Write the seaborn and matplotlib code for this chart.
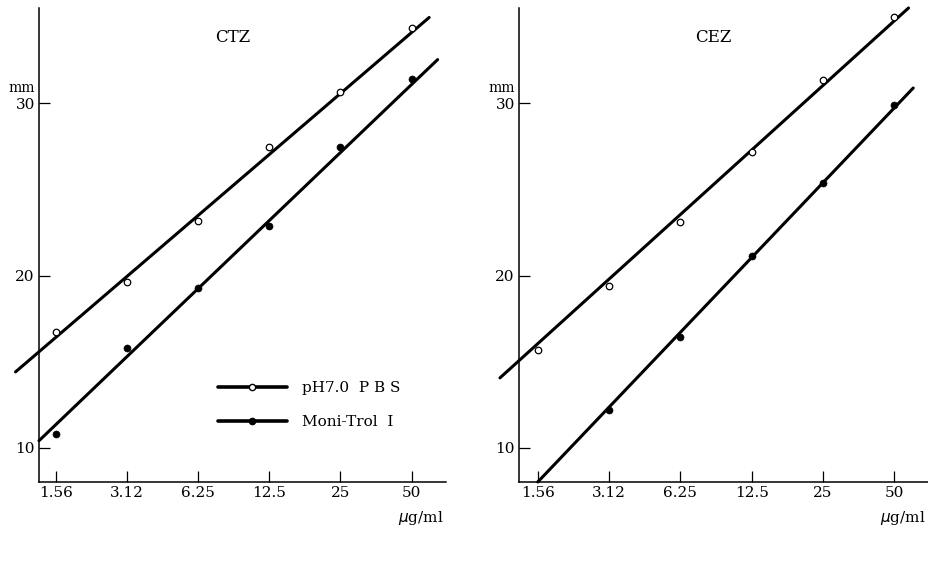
import numpy as np
import pandas as pd
import matplotlib
matplotlib.use("Agg")
import matplotlib.pyplot as plt
from matplotlib.lines import Line2D
import seaborn as sns

sns.set_style("ticks")
plt.rcParams['font.family'] = ['DejaVu Serif']
plt.rcParams['text.color'] = 'black'

# concentrations (ug/ml) and zone diameters (mm)
conc = [1.56, 3.12, 6.25, 12.5, 25, 50]
tick_labels = ["1.56", "3.12", "6.25", "12.5", "25", "50"]

ctz_pbs = [16.7, 19.65, 23.15, 27.45, 30.65, 34.4]
ctz_moni = [10.8, 15.8, 19.3, 22.9, 27.45, 31.4]
cez_pbs = [15.7, 19.4, 23.1, 27.2, 31.35, 35.0]
cez_moni = [np.nan, 12.2, 16.45, 21.15, 25.35, 29.9]

# regression line end points (x in ug/ml, y in mm)
ctz_pbs_fit_x = [1.05, 59.4]
ctz_pbs_fit_y = [14.4, 35.0]
ctz_moni_fit_x = [1.32, 64.5]
ctz_moni_fit_y = [10.4, 32.55]
cez_pbs_fit_x = [1.08, 57.5]
cez_pbs_fit_y = [14.05, 35.55]
cez_moni_fit_x = [1.56, 60.2]
cez_moni_fit_y = [8.0, 30.9]

fig = plt.figure(figsize=(9.29, 5.63), dpi=100)
ax1 = fig.add_axes([39/929, 1-482/563, 407/929, 474/563])
ax2 = fig.add_axes([519/929, 1-482/563, 409/929, 474/563])

panels = [
    (ax1, "CTZ", ctz_pbs, ctz_moni, ctz_pbs_fit_x, ctz_pbs_fit_y,
     ctz_moni_fit_x, ctz_moni_fit_y, (1.32, 70.0)),
    (ax2, "CEZ", cez_pbs, cez_moni, cez_pbs_fit_x, cez_pbs_fit_y,
     cez_moni_fit_x, cez_moni_fit_y, (1.30, 69.5)),
]

for ax, name, pbs, moni, px, py, mx, my, xlim in panels:
    ax.set_xscale("log", base=2)
    for fx, fy in [(px, py), (mx, my)]:
        sns.lineplot(x=fx, y=fy, ax=ax, color="black", lw=2.2,
                     clip_on=False, zorder=2)
    df = pd.DataFrame({"conc": conc, "pbs": pbs, "moni": moni})
    sns.scatterplot(data=df, x="conc", y="pbs", ax=ax, marker="o", s=22,
                    facecolor="white", edgecolor="black", linewidth=0.9,
                    zorder=3, clip_on=False)
    sns.scatterplot(data=df.dropna(), x="conc", y="moni", ax=ax, marker="o",
                    s=26, color="black", edgecolor="black", zorder=3,
                    clip_on=False)
    ax.set_xlim(*xlim)
    ax.set_ylim(8, 35.55)
    ax.set_xticks(conc)
    ax.set_xticklabels(tick_labels)
    ax.xaxis.set_minor_locator(matplotlib.ticker.NullLocator())
    ax.set_yticks([10, 20, 30])
    ax.tick_params(direction="in", length=8, width=0.9, labelsize=11,
                   pad=3, colors="black")
    ax.set_xlabel("")
    ax.set_ylabel("")
    for s in ["top", "right"]:
        ax.spines[s].set_visible(False)
    for s in ["left", "bottom"]:
        ax.spines[s].set_linewidth(1.1)
        ax.spines[s].set_color("black")
    ax.text(0.476, 0.937, name, transform=ax.transAxes, ha="center",
            va="center", fontsize=12)
    ax.text(-0.01, 0.832, "mm", transform=ax.transAxes, ha="right",
            va="center", fontsize=10)
    ax.text(0.995, -0.075, r"$\mu$g/ml", transform=ax.transAxes, ha="right",
            va="center", fontsize=11)

handles = [
    Line2D([], [], color="black", lw=2.6, marker="o", markersize=4.5,
           markerfacecolor="white", markeredgecolor="black"),
    Line2D([], [], color="black", lw=2.6, marker="o", markersize=4.5,
           markerfacecolor="black", markeredgecolor="black"),
]
ax1.legend(handles, ["pH7.0  P B S", "Moni-Trol  I"], frameon=False,
           loc="upper left", bbox_to_anchor=(0.425, 0.225), fontsize=11,
           handlelength=4.5, handletextpad=1.0, labelspacing=1.3,
           borderaxespad=0)

fig.savefig("out.png", dpi=100)
